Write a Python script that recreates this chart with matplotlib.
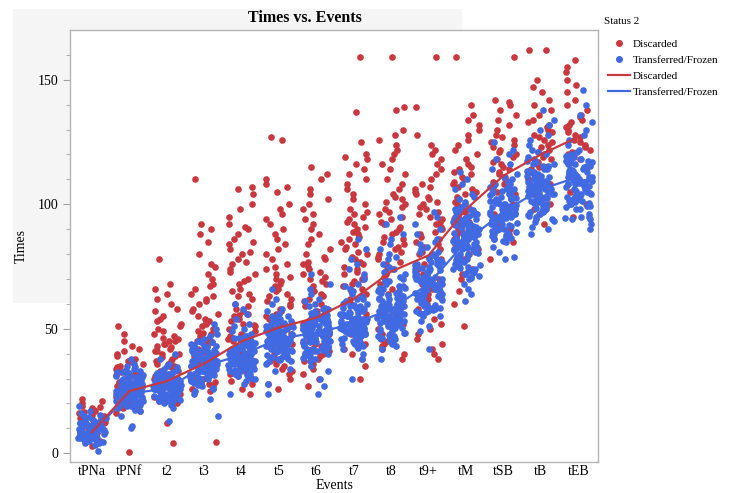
import numpy as np
import matplotlib
matplotlib.use('Agg')
import matplotlib.pyplot as plt
from matplotlib.lines import Line2D
from matplotlib.patches import Rectangle

plt.rcParams['font.family'] = ['Liberation Serif', 'DejaVu Serif']

events = ['tPNa', 'tPNf', 't2', 't3', 't4', 't5', 't6', 't7', 't8', 't9+',
          'tM', 'tSB', 'tB', 'tEB']

# times of transferred/frozen embryos, one list per event
transferred = [
    [4, 5, 6, 7, 8, 9, 10, 11, 12, 13, 6.5, 7.5, 8.5, 9.5, 5.5, 10.5, 11.5, 4.5, 12.5, 14,
     5, 6, 7, 8, 9, 10, 7, 8, 9, 6, 11, 8, 7, 9, 10, 5, 12, 6, 8, 13,
     7.5, 8.5, 6.5, 9.5, 4, 10.5, 15, 3.5, 11, 7, 8, 9, 6, 10, 12, 16, 5, 8, 7, 9,
     5.2, 6.2, 7.2, 8.2, 9.2, 10.2, 11.2, 12.2, 6.8, 7.8, 8.8, 9.8, 10.8, 5.8, 7.3,
     8.3, 9.3, 6.3, 10.3, 11.8, 4.8, 13.2, 7.7, 8.7, 9.7, 6.7, 14.5, 15.5,
     1, 17, 19],
    [18, 19, 20, 21, 22, 23, 24, 25, 26, 27, 28, 29, 30, 31, 32, 33, 34,
     19.5, 20.5, 21.5, 22.5, 23.5, 24.5, 25.5, 26.5, 27.5, 28.5, 29.5, 30.5, 31.5, 32.5,
     20, 21, 22, 23, 24, 25, 26, 27, 28, 29, 30, 31, 22, 24, 26, 28, 23, 25, 27, 21,
     24, 25, 26, 23, 27, 22, 28, 20, 29, 30, 24.5, 25.5, 26.5, 23.5, 17, 35, 36, 18.5, 33.5,
     18.2, 19.2, 20.2, 21.2, 22.2, 23.2, 24.2, 25.2, 26.2, 27.2, 28.2, 29.2, 30.2, 31.2,
     32.2, 33.2, 18.8, 19.8, 20.8, 21.8, 22.8, 23.8, 24.8, 25.8, 26.8, 27.8, 28.8, 29.8,
     30.8, 31.8, 32.8, 21.3, 23.3, 25.3, 27.3, 29.3, 22.7, 24.7, 26.7, 28.7, 34.5, 17.5,
     10, 11, 15, 38],
    [20, 21, 22, 23, 24, 25, 26, 27, 28, 29, 30, 31, 32, 33,
     21.5, 22.5, 23.5, 24.5, 25.5, 26.5, 27.5, 28.5, 29.5, 30.5, 31.5,
     22, 23, 24, 25, 26, 27, 28, 29, 30, 24, 25, 26, 27, 28, 23, 25, 27, 29, 26, 24,
     22.5, 25.5, 27.5, 29.5, 24.5, 26.5, 28.5, 30.5, 21, 32, 34, 35, 19.5, 33.5, 36,
     20.2, 21.2, 22.2, 23.2, 24.2, 25.2, 26.2, 27.2, 28.2, 29.2, 30.2, 31.2, 32.2,
     20.8, 21.8, 22.8, 23.8, 24.8, 25.8, 26.8, 27.8, 28.8, 29.8, 30.8, 31.8,
     23.3, 25.3, 27.3, 29.3, 24.7, 26.7, 28.7, 32.7, 34.5,
     13, 18, 38, 40],
    [26, 27, 28, 29, 30, 31, 32, 33, 34, 35, 36, 37, 38, 39, 40, 41, 42, 43, 44, 45,
     28.5, 30.5, 32.5, 34.5, 36.5, 38.5, 40.5, 42.5, 29.5, 31.5, 33.5, 35.5, 37.5, 39.5, 41.5,
     30, 32, 34, 36, 38, 40, 33, 35, 37, 31, 36, 34, 39, 35, 32, 37, 38, 33, 36, 34,
     46, 47, 48, 50, 25, 24, 27.5, 43.5, 44.5,
     26.3, 28.2, 29.2, 30.2, 31.2, 32.2, 33.2, 34.2, 35.2, 36.2, 37.2, 38.2, 39.2, 40.2,
     41.2, 42.2, 43.2, 27.8, 29.8, 31.8, 33.8, 35.8, 37.8, 39.8, 41.8, 44.8, 31.3, 35.3,
     39.3, 33.7, 37.7,
     15, 22, 52],
    [30, 31, 32, 33, 34, 35, 36, 37, 38, 39, 40, 41, 42, 43, 44, 45, 46, 47, 48,
     31.5, 33.5, 35.5, 37.5, 39.5, 41.5, 43.5, 45.5, 32.5, 34.5, 36.5, 38.5, 40.5, 42.5, 44.5,
     35, 36, 37, 38, 39, 40, 41, 42, 38, 39, 40, 37, 41, 36, 39, 38, 40, 42, 34, 43,
     49, 50, 51, 52, 54, 56, 29, 28, 46.5,
     30.2, 31.2, 32.2, 33.2, 34.2, 35.2, 36.2, 37.2, 38.2, 39.2, 40.2, 41.2, 42.2, 43.2,
     44.2, 45.2, 46.2, 47.2, 31.8, 33.8, 35.8, 37.8, 39.8, 41.8, 43.8, 45.8, 36.7, 40.7,
     38.7, 42.7, 34.7,
     24, 58, 60],
    [36, 37, 38, 39, 40, 41, 42, 43, 44, 45, 46, 47, 48, 49, 50, 51, 52, 53, 54, 55, 56,
     37.5, 39.5, 41.5, 43.5, 45.5, 47.5, 49.5, 51.5, 53.5,
     38.5, 40.5, 42.5, 44.5, 46.5, 48.5, 50.5, 52.5,
     42, 43, 44, 45, 46, 47, 48, 49, 45, 46, 47, 44, 48, 46, 43, 50, 45, 47, 41, 49,
     57, 58, 60, 62, 34, 33,
     36.2, 37.2, 38.2, 39.2, 40.2, 41.2, 42.2, 43.2, 44.2, 45.2, 46.2, 47.2, 48.2, 49.2,
     50.2, 51.2, 52.2, 53.2, 54.2, 55.2, 37.8, 39.8, 41.8, 43.8, 45.8, 47.8, 49.8, 51.8,
     53.8, 42.7, 46.7, 50.7, 44.7, 48.7,
     24, 28, 66],
    [37, 38, 39, 40, 41, 42, 43, 44, 45, 46, 47, 48, 49, 50, 51, 52, 53, 54, 55, 56, 57, 58, 59, 60,
     39.5, 41.5, 43.5, 45.5, 47.5, 49.5, 51.5, 53.5, 55.5,
     40.5, 42.5, 44.5, 46.5, 48.5, 50.5, 52.5, 54.5,
     44, 45, 46, 47, 48, 49, 50, 51, 47, 48, 49, 46, 50, 48, 45, 52, 47, 49, 43, 51,
     61, 62, 64, 66, 68, 35, 33, 30,
     38.2, 39.2, 40.2, 41.2, 42.2, 43.2, 44.2, 45.2, 46.2, 47.2, 48.2, 49.2, 50.2, 51.2,
     52.2, 53.2, 54.2, 55.2, 56.2, 57.2, 58.2, 39.8, 41.8, 43.8, 45.8, 47.8, 49.8, 51.8,
     53.8, 55.8, 57.8, 44.7, 48.7, 52.7,
     24, 27, 72],
    [42, 43, 44, 45, 46, 47, 48, 49, 50, 51, 52, 53, 54, 55, 56, 57, 58, 59, 60, 61, 62,
     43.5, 45.5, 47.5, 49.5, 51.5, 53.5, 55.5, 57.5, 59.5,
     44.5, 46.5, 48.5, 50.5, 52.5, 54.5, 56.5, 58.5,
     48, 49, 50, 51, 52, 53, 54, 55, 50, 51, 52, 53, 49, 54, 52, 51, 50, 53,
     63, 64, 66, 68, 70, 72, 74, 76, 78, 40, 38,
     42.2, 43.2, 44.2, 45.2, 46.2, 47.2, 48.2, 49.2, 50.2, 51.2, 52.2, 53.2, 54.2, 55.2,
     56.2, 57.2, 58.2, 59.2, 60.2, 43.8, 45.8, 47.8, 49.8, 51.8, 53.8, 55.8, 57.8, 59.8,
     61.8, 48.7, 52.7, 56.7, 65, 67,
     30, 82, 86],
    [44, 45, 46, 47, 48, 49, 50, 51, 52, 53, 54, 55, 56, 57, 58, 59, 60, 61, 62, 63, 64, 65,
     66, 67, 68, 69, 70,
     46.5, 48.5, 50.5, 52.5, 54.5, 56.5, 58.5, 60.5, 62.5, 64.5, 66.5, 47.5, 51.5, 55.5, 59.5, 63.5,
     52, 53, 54, 55, 56, 57, 58, 59, 60, 55, 56, 57, 58, 54, 57, 56, 58, 55,
     72, 74, 76, 78, 80, 82, 84, 86, 88, 75, 79, 43, 42,
     44.2, 45.2, 46.2, 47.2, 48.2, 49.2, 50.2, 51.2, 52.2, 53.2, 54.2, 55.2, 56.2, 57.2,
     58.2, 59.2, 60.2, 61.2, 62.2, 63.2, 64.2, 65.2, 66.2, 67.2, 45.8, 49.8, 53.8, 57.8,
     61.8, 65.8, 69.2, 71, 73,
     92, 95, 38],
    [55, 56, 57, 58, 59, 60, 61, 62, 63, 64, 65, 66, 67, 68, 69, 70, 71, 72, 73, 74, 75, 76,
     77, 78, 79, 80,
     57.5, 59.5, 61.5, 63.5, 65.5, 67.5, 69.5, 71.5, 73.5, 75.5, 77.5, 58.5, 62.5, 66.5, 70.5, 74.5,
     64, 65, 66, 67, 68, 69, 70, 71, 72, 66, 67, 68, 69, 70, 68, 67, 69,
     82, 84, 86, 88, 90, 92, 85, 53, 51, 49,
     55.2, 56.2, 57.2, 58.2, 59.2, 60.2, 61.2, 62.2, 63.2, 64.2, 65.2, 66.2, 67.2, 68.2,
     69.2, 70.2, 71.2, 72.2, 73.2, 74.2, 75.2, 76.2, 77.2, 78.2, 79.2, 56.8, 60.8, 64.8,
     68.8, 72.8, 76.8, 80.8, 81, 83,
     42, 95, 97],
    [70, 71, 72, 73, 74, 75, 76, 77, 78, 79, 80, 81, 82, 83, 84, 85, 86, 87, 88, 89, 90, 91,
     92, 93, 94, 95, 96, 97, 98, 99, 100,
     72.5, 74.5, 76.5, 78.5, 80.5, 82.5, 84.5, 86.5, 88.5, 90.5, 92.5, 94.5, 96.5,
     75.5, 79.5, 83.5, 87.5, 91.5,
     82, 83, 84, 85, 86, 87, 88, 85, 84, 86, 83, 87, 85,
     102, 104, 106, 108, 101, 103, 68, 66, 64,
     70.2, 71.2, 72.2, 73.2, 74.2, 75.2, 76.2, 77.2, 78.2, 79.2, 80.2, 81.2, 82.2, 83.2,
     84.2, 85.2, 86.2, 87.2, 88.2, 89.2, 90.2, 91.2, 92.2, 93.2, 94.2, 95.2, 96.2, 97.2,
     98.2, 73.8, 77.8, 81.8, 85.8, 89.8, 93.8, 97.8,
     61, 113, 110],
    [85, 86, 87, 88, 89, 90, 91, 92, 93, 94, 95, 96, 97, 98, 99, 100, 101, 102, 103, 104, 105,
     106, 107, 108, 109, 110,
     86.5, 88.5, 90.5, 92.5, 94.5, 96.5, 98.5, 100.5, 102.5, 104.5, 106.5,
     89.5, 93.5, 97.5, 101.5, 105.5,
     94, 95, 96, 97, 98, 99, 100, 96, 97, 98, 95, 99,
     112, 114, 116, 118, 120, 122, 83, 81, 79,
     85.2, 86.2, 87.2, 88.2, 89.2, 90.2, 91.2, 92.2, 93.2, 94.2, 95.2, 96.2, 97.2, 98.2,
     99.2, 100.2, 101.2, 102.2, 103.2, 104.2, 105.2, 106.2, 107.2, 108.2, 87.8, 91.8,
     95.8, 99.8, 103.8, 107.8, 111,
     78, 125],
    [93, 94, 95, 96, 97, 98, 99, 100, 101, 102, 103, 104, 105, 106, 107, 108, 109, 110, 111,
     112, 113, 114, 115, 116, 117, 118, 119, 120,
     95.5, 97.5, 99.5, 101.5, 103.5, 105.5, 107.5, 109.5, 111.5, 113.5, 115.5,
     98.5, 102.5, 106.5, 110.5,
     104, 105, 106, 107, 108, 105, 106, 107, 103, 109,
     122, 124, 126, 128, 130, 132, 134, 91, 90,
     93.2, 94.2, 95.2, 96.2, 97.2, 98.2, 99.2, 100.2, 101.2, 102.2, 103.2, 104.2, 105.2,
     106.2, 107.2, 108.2, 109.2, 110.2, 111.2, 112.2, 113.2, 114.2, 115.2, 116.2, 117.2,
     96.8, 100.8, 104.8, 108.8, 112.8, 121,
     88, 138],
    [98, 99, 100, 101, 102, 103, 104, 105, 106, 107, 108, 109, 110, 111, 112, 113, 114, 115,
     116, 117, 118, 119, 120,
     99.5, 101.5, 103.5, 105.5, 107.5, 109.5, 111.5, 113.5, 115.5, 117.5,
     100.5, 104.5, 108.5, 112.5, 116.5,
     108, 109, 110, 111, 112, 110, 109, 111,
     122, 124, 126, 128, 130, 133, 136, 140, 146,
     98.2, 99.2, 100.2, 101.2, 102.2, 103.2, 104.2, 105.2, 106.2, 107.2, 108.2, 109.2,
     110.2, 111.2, 112.2, 113.2, 114.2, 115.2, 116.2, 117.2, 118.2, 119.2, 101.8, 105.8,
     109.8, 113.8, 117.8, 121,
     94, 94.5, 95, 95, 94, 96, 90, 92],
]

# times of discarded embryos, one list per event
discarded = [
    [19, 18, 17, 16, 20, 15, 14, 13, 12, 11, 10, 9, 8, 7, 6, 5, 4, 3, 14.5, 13.5,
     12.5, 16.5, 17.5, 15.5, 11.5, 9.5, 6.5, 18.5, 21, 22],
    [0.5, 18, 19, 20, 21, 22, 23, 24, 25, 26, 27, 28, 29, 30, 31, 32, 33, 34, 35, 36,
     37, 38, 39, 40, 42, 43, 45, 48, 51, 20.5, 22.5, 24.5, 26.5, 28.5, 30.5, 32.5, 34.5,
     36.5, 17, 16, 19.5, 23.5, 27.5, 31.5, 41],
    [4, 12, 20, 21, 22, 23, 24, 25, 26, 27, 28, 29, 30, 31, 32, 33, 34, 35, 36, 37, 38,
     39, 40, 41, 42, 43, 44, 45, 46, 47, 48, 49, 50, 52, 53, 54, 55, 57, 58, 60, 62, 64,
     66, 68, 78, 22.5, 26.5, 30.5, 34.5, 38.5, 42.5, 46.5, 36, 40, 44, 33, 37, 41, 45, 51],
    [4.5, 25, 26, 27, 28, 29, 30, 31, 32, 33, 34, 35, 36, 37, 38, 39, 40, 41, 42, 43, 44,
     45, 46, 47, 48, 49, 50, 51, 52, 53, 54, 55, 56, 58, 60, 62, 64, 66, 68, 70, 72, 75,
     76, 80, 85, 88, 90, 92, 110, 28.5, 32.5, 36.5, 40.5, 44.5, 48.5, 52.5, 57, 61, 63, 67],
    [24, 26, 28, 29, 30, 31, 32, 33, 34, 35, 36, 37, 38, 39, 40, 41, 42, 43, 44, 45, 46,
     47, 48, 49, 50, 51, 52, 53, 54, 55, 56, 57, 58, 60, 62, 64, 66, 68, 70, 72, 74, 76,
     78, 80, 82, 84, 86, 88, 90, 91, 92, 95, 98, 100, 104, 106, 107, 51.5, 55.5, 59, 63,
     65, 69, 73, 77, 81, 85],
    [26, 28, 30, 32, 33, 34, 35, 36, 37, 38, 39, 40, 41, 42, 43, 44, 45, 46, 47, 48, 49,
     50, 51, 52, 53, 54, 55, 56, 57, 58, 59, 60, 62, 64, 66, 68, 70, 72, 74, 76, 78, 80,
     82, 84, 86, 88, 90, 92, 94, 96, 98, 100, 105, 107, 108, 110, 126, 127, 61, 63, 65,
     67, 69, 71, 75],
    [27, 30, 32, 34, 35, 36, 37, 38, 39, 40, 41, 42, 43, 44, 45, 46, 47, 48, 49, 50, 51,
     52, 53, 54, 55, 56, 57, 58, 59, 60, 61, 62, 63, 64, 65, 66, 68, 70, 72, 74, 76, 78,
     80, 82, 84, 86, 88, 90, 92, 94, 96, 98, 100, 102, 104, 106, 110, 112, 115, 67, 69,
     71, 73, 75, 77, 79],
    [30, 35, 38, 40, 42, 44, 45, 46, 47, 48, 49, 50, 52, 54, 56, 58, 60, 62, 64, 65, 66,
     67, 68, 69, 70, 71, 72, 73, 74, 75, 76, 78, 80, 82, 84, 86, 88, 90, 92, 94, 96, 98,
     100, 102, 104, 106, 108, 110, 112, 114, 116, 118, 119, 120, 125, 137, 159, 77, 79,
     81, 83, 85, 87, 89, 91, 93, 95, 97],
    [38, 40, 42, 43, 44, 45, 46, 48, 50, 52, 54, 56, 58, 60, 62, 64, 66, 68, 70, 71, 72,
     73, 74, 75, 76, 77, 78, 79, 80, 81, 82, 83, 84, 85, 86, 87, 88, 89, 90, 92, 94, 96,
     98, 100, 102, 104, 106, 108, 110, 112, 114, 116, 118, 120, 122, 124, 126, 128, 130,
     138, 139, 159, 91, 93, 95, 97, 99, 101, 103],
    [38, 40, 42, 44, 46, 48, 50, 52, 54, 56, 58, 60, 62, 64, 66, 68, 70, 72, 74, 76, 78,
     80, 81, 82, 83, 84, 85, 86, 87, 88, 89, 90, 91, 92, 93, 94, 95, 96, 97, 98, 100, 102,
     104, 106, 108, 110, 112, 114, 116, 118, 120, 122, 124, 128, 139, 159, 99, 101, 103,
     105, 107],
    [51, 60, 65, 70, 72, 74, 76, 78, 80, 82, 84, 86, 88, 90, 92, 94, 95, 96, 97, 98, 99,
     100, 101, 102, 103, 104, 105, 106, 107, 108, 109, 110, 111, 112, 113, 114, 115, 116,
     118, 120, 122, 124, 126, 128, 130, 132, 134, 136, 140, 159, 93, 91, 89, 87],
    [78, 85, 88, 90, 92, 94, 96, 98, 100, 102, 104, 105, 106, 107, 108, 109, 110, 111, 112,
     113, 114, 115, 116, 117, 118, 119, 120, 122, 124, 126, 128, 130, 132, 134, 136, 138,
     140, 141, 142, 159, 121, 123, 125, 127],
    [92, 98, 100, 104, 108, 110, 112, 114, 115, 116, 117, 118, 119, 120, 121, 122, 123,
     124, 125, 126, 127, 128, 129, 130, 132, 134, 136, 138, 140, 142, 145, 147, 150, 162,
     162, 131, 133],
    [95, 100, 105, 110, 115, 118, 120, 122, 124, 125, 126, 127, 128, 129, 130, 131, 132,
     133, 134, 135, 136, 138, 140, 142, 145, 148, 150, 153, 155, 158, 123, 121],
]

# smoother values per event
discarded_fit = [8.5, 25, 29, 36, 45, 50.5, 54.5, 62, 73, 79.5, 98, 111.5, 120, 127]
transferred_fit = [8, 24, 26, 35, 39.5, 46, 48.5, 52, 58, 68, 85, 97, 106, 111]

RED = '#c9383f'
BLUE = '#4169e1'

# horizontal jitter inside each event slot
rng = np.random.default_rng(11)

fig = plt.figure(figsize=(7.34, 4.93), dpi=100)
fig.patches.append(Rectangle((13 / 734, 1 - 303 / 493), 449 / 734, 294 / 493,
                             transform=fig.transFigure, facecolor='#f5f5f5',
                             edgecolor='none', zorder=-5))
ax = fig.add_axes([70 / 734, 31 / 493, 528 / 734, 432 / 493])
ax.set_facecolor('white')

for i, vals in enumerate(discarded):
    ax.scatter(i + rng.uniform(-0.37, 0.37, len(vals)), vals, s=23, color=RED,
               linewidths=0, zorder=2)
for i, vals in enumerate(transferred):
    ax.scatter(i + rng.uniform(-0.37, 0.37, len(vals)), vals, s=23, color=BLUE,
               linewidths=0, zorder=3)

xs = np.arange(len(events))
ax.plot(xs, transferred_fit, color=BLUE, lw=1.6, zorder=4)
ax.plot(xs, discarded_fit, color=RED, lw=1.6, zorder=5)

ax.set_xlim(-0.59, 13.53)
ax.set_ylim(-3.5, 170)
ax.set_xticks(xs)
ax.set_xticklabels(events)
ax.set_yticks([0, 50, 100, 150])
ax.set_yticks(np.arange(0, 170, 10), minor=True)
ax.tick_params(axis='x', length=0, labelsize=10, pad=2)
ax.tick_params(axis='y', which='major', length=5, color='#a0a0a0', labelsize=10)
ax.tick_params(axis='y', which='minor', length=3, color='#a0a0a0')
for sp in ax.spines.values():
    sp.set_color('#b5b5b5')
    sp.set_linewidth(1.0)

ax.set_xlabel('Events', fontsize=10, labelpad=1)
ax.set_ylabel('Times', fontsize=10, labelpad=7)
fig.text(305 / 734, 1 - 18 / 493, 'Times vs. Events', ha='center', va='center',
         fontsize=11.5, fontweight='bold')

# legend block on the right
fig.text(604 / 734, 1 - 22 / 493, 'Status 2', ha='left', va='center', fontsize=8)
handles = [
    Line2D([], [], marker='o', ls='none', color=RED, markersize=4),
    Line2D([], [], marker='o', ls='none', color=BLUE, markersize=4),
    Line2D([], [], color=RED, lw=1.6),
    Line2D([], [], color=BLUE, lw=1.6),
]
labels = ['Discarded', 'Transferred/Frozen', 'Discarded', 'Transferred/Frozen']
fig.legend(handles, labels, loc='upper left',
           bbox_to_anchor=(602 / 734, 1 - 34 / 493), frameon=False,
           fontsize=8, handlelength=2.0, handletextpad=0.25,
           labelspacing=0.55, borderpad=0)

fig.savefig('out.png', dpi=100)
